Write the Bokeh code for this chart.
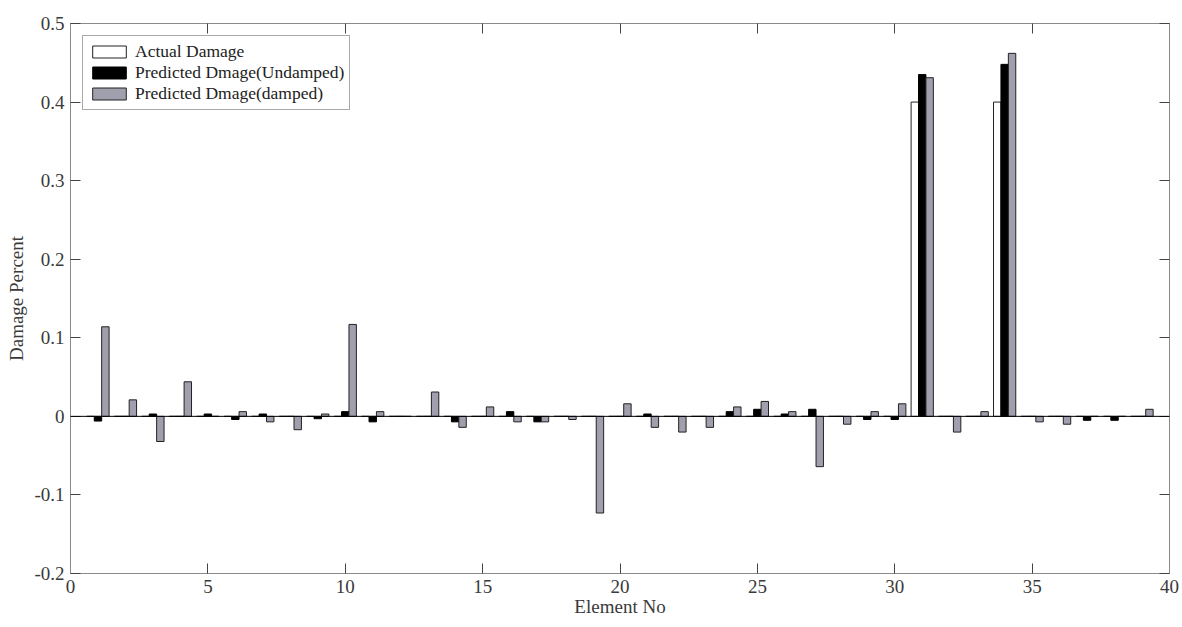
from bokeh.plotting import figure
from bokeh.models import (ColumnDataSource, Range1d, FixedTicker, LinearAxis, Span,
                          CustomJSTickFormatter, Legend)
from bokeh.transform import dodge
from bokeh.embed import file_html
from bokeh.resources import INLINE

# ---------------- data ----------------
elements = list(range(1, 40))
actual_damage = [0, 0, 0, 0, 0, 0, 0, 0, 0, 0,
                 0, 0, 0, 0, 0, 0, 0, 0, 0, 0,
                 0, 0, 0, 0, 0, 0, 0, 0, 0, 0,
                 0.4, 0, 0, 0.4, 0, 0, 0, 0, 0]
undamped = [-0.006, 0, 0.003, 0, 0.003, -0.004, 0.003, 0, -0.003, 0.006,
            -0.007, 0, 0, -0.007, 0, 0.006, -0.007, 0, 0, 0,
            0.003, 0, 0, 0.006, 0.009, 0.003, 0.009, 0, -0.004, -0.004,
            0.435, 0, 0, 0.448, 0, 0, -0.005, -0.005, 0]
damped = [0.114, 0.021, -0.032, 0.044, 0, 0.006, -0.007, -0.017, 0.003, 0.117,
          0.006, 0, 0.031, -0.014, 0.012, -0.007, -0.007, -0.004, -0.123, 0.016,
          -0.014, -0.020, -0.014, 0.012, 0.019, 0.006, -0.064, -0.010, 0.006, 0.016,
          0.431, -0.020, 0.006, 0.462, -0.007, -0.010, 0, 0, 0.009]
x_ticks = [0, 5, 10, 15, 20, 25, 30, 35, 40]
y_ticks = [-0.2, -0.1, 0, 0.1, 0.2, 0.3, 0.4, 0.5]
series_names = ["Actual Damage", "Predicted Dmage(Undamped)", "Predicted Dmage(damped)"]

src = ColumnDataSource(dict(element=elements, actual=actual_damage,
                            undamped=undamped, damped=damped))

FONT = "Liberation Serif"
AXIS_GREY = "#8a8a8a"
TEXT = "#3a3a3a"
GREY_BAR = "#a09fad"

p = figure(width=1182, height=627, x_range=Range1d(0, 40), y_range=Range1d(-0.2, 0.5),
           output_backend="svg", toolbar_location=None,
           min_border_left=70, min_border_right=13, min_border_top=23, min_border_bottom=54)
p.xgrid.visible = False
p.ygrid.visible = False
p.outline_line_color = AXIS_GREY
p.background_fill_color = "white"
p.border_fill_color = "white"

bw = 0.27
r1 = p.vbar(x=dodge("element", -bw, range=p.x_range), top="actual", width=bw, source=src,
            fill_color="white", line_color="#222222", line_width=1)
r2 = p.vbar(x="element", top="undamped", width=bw, source=src,
            fill_color="black", line_color="black", line_width=1)
r3 = p.vbar(x=dodge("element", bw, range=p.x_range), top="damped", width=bw, source=src,
            fill_color=GREY_BAR, line_color="#222222", line_width=1)

p.add_layout(Span(location=0, dimension="width", line_color="black", line_width=1))

yfmt = CustomJSTickFormatter(code="return Math.abs(tick) < 1e-9 ? '0' : tick.toFixed(1);")
blank = CustomJSTickFormatter(code="return '';")

def style_axis(ax):
    ax.axis_line_color = AXIS_GREY
    ax.major_tick_line_color = "#444444"
    ax.major_tick_in = 10
    ax.major_tick_out = 0
    ax.minor_tick_line_color = None
    ax.major_label_text_font = FONT
    ax.major_label_text_color = TEXT
    ax.major_label_text_font_size = "19px"
    ax.axis_label_text_font = FONT
    ax.axis_label_text_font_style = "normal"
    ax.axis_label_text_color = TEXT
    ax.axis_label_text_font_size = "19px"

xa = p.xaxis[0]
xa.ticker = FixedTicker(ticks=x_ticks)
xa.axis_label = "Element No"
style_axis(xa)
xa.major_label_standoff = 6
xa.axis_label_standoff = 0

ya = p.yaxis[0]
ya.ticker = FixedTicker(ticks=y_ticks)
ya.formatter = yfmt
ya.axis_label = "Damage Percent"
style_axis(ya)
ya.major_label_standoff = 6
ya.axis_label_standoff = 4

top_ax = LinearAxis(ticker=FixedTicker(ticks=x_ticks), formatter=blank)
style_axis(top_ax)
top_ax.major_label_text_font_size = "10px"
top_ax.major_label_standoff = 0
p.add_layout(top_ax, "above")

right_ax = LinearAxis(ticker=FixedTicker(ticks=y_ticks), formatter=blank)
style_axis(right_ax)
right_ax.major_label_text_font_size = "10px"
right_ax.major_label_standoff = 0
p.add_layout(right_ax, "right")

legend = Legend(items=[(series_names[0], [r1]), (series_names[1], [r2]), (series_names[2], [r3])],
                location="top_left")
legend.label_text_font = FONT
legend.label_text_font_size = "17.5px"
legend.label_text_color = "#222222"
legend.glyph_width = 42
legend.glyph_height = 15
legend.label_height = 19
legend.label_standoff = 5
legend.spacing = 0
legend.padding = 5
legend.margin = 12
legend.border_line_color = "#555555"
legend.border_line_width = 1
legend.background_fill_color = "white"
legend.background_fill_alpha = 1
p.add_layout(legend, "center")

open("out.html", "w").write(file_html(p, INLINE))
